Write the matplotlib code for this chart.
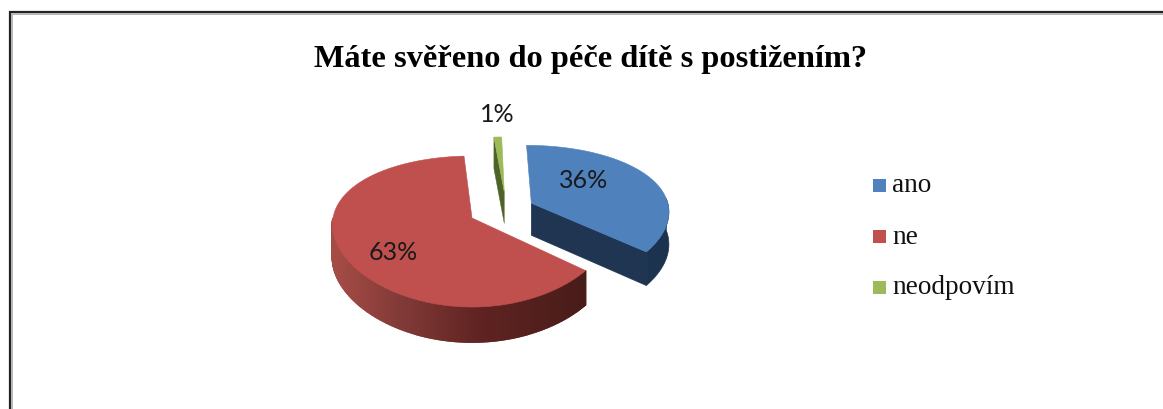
import numpy as np
import matplotlib
matplotlib.use('Agg')
import matplotlib.pyplot as plt
from matplotlib.patches import Polygon

title = 'Máte svěřeno do péče dítě s postižením?'
categories = ['ano', 'ne', 'neodpovím']
shares = [36, 63, 1]
labels = ['36%', '63%', '1%']

top_colors = ['#4f81bd', '#c0504d', '#9bbb59']

# projection of the pie plane, in pixels
cx, cy = 472, 218
A, B, k, kx = 139, 73.1, 0.179, 0.09
offsets = [(0.435, -0.209), (0, 0), (0.24, -0.382)]


def project(u, v):
    return cx + A * u / (1 - kx * v), cy + B * v / (1 - k * v)


def depth(v):
    return 32.5 + 2.5 * np.minimum(v, 1)


def arc(t0, t1, off, n=120):
    t = np.radians(np.linspace(t0, t1, n))
    return off[0] + np.sin(t), off[1] - np.cos(t)


def side_color(x):
    stops_x = [335, 400, 480, 584]
    r = np.interp(x, stops_x, [165, 130, 95, 72])
    g = np.interp(x, stops_x, [75, 58, 35, 28])
    b = np.interp(x, stops_x, [70, 55, 33, 25])
    return (r / 255, g / 255, b / 255)


fig = plt.figure(figsize=(11.63, 4.09), dpi=100)
ax = fig.add_axes([0, 0, 1, 1])
ax.set_xlim(0, 1163)
ax.set_ylim(409, 0)
ax.axis('off')

# frame of the pasted picture
ax.plot([10, 10, 1163], [409, 12, 12], color='#222222', lw=1.6, solid_joinstyle='miter')
ax.plot([12, 12, 1163], [409, 14, 14], color='#b5b5b5', lw=1.4, solid_joinstyle='miter')

ends = np.cumsum(shares) / np.sum(shares) * 360
starts = np.r_[0, ends[:-1]]

# blue side faces
u, v = arc(starts[0], ends[0], offsets[0])
x, y = project(u, v)
ax0, ay0 = project(*offsets[0])
cut = np.array([[ax0, ay0], [x[-1], y[-1]], [x[-1], y[-1] + depth(v[-1])],
                [ax0, ay0 + depth(offsets[0][1])]])
ax.add_patch(Polygon(cut, color='#1f3552', lw=0.5, zorder=2))
keep = np.degrees(np.arctan2(u - offsets[0][0], -(v - offsets[0][1]))) > 85
rim = np.c_[np.r_[x[keep], x[keep][::-1]], np.r_[y[keep], (y + depth(v))[keep][::-1]]]
ax.add_patch(Polygon(rim, color='#1c3350', lw=0.5, zorder=2))

# red side with its gradient, strip by strip
u, v = arc(starts[1], 270, offsets[1], n=200)
x, y = project(u, v)
d = depth(v)
for i in range(len(x) - 1):
    quad = [(x[i], y[i]), (x[i + 1], y[i + 1]), (x[i + 1], y[i + 1] + d[i + 1]), (x[i], y[i] + d[i])]
    ax.add_patch(Polygon(quad, color=side_color((x[i] + x[i + 1]) / 2), lw=1.2, zorder=2))

# green cut face
u, v = arc(starts[2], ends[2], offsets[2], n=10)
x, y = project(u, v)
gx0, gy0 = project(*offsets[2])
gd = depth(offsets[2][1])
ax.add_patch(Polygon([(x[0], y[0]), (gx0, gy0), (gx0, gy0 + gd), (x[0], y[0] + gd)],
                     color='#4f6228', lw=0.3, zorder=2))

# top faces
for i in range(len(shares)):
    u, v = arc(starts[i], ends[i], offsets[i])
    x, y = project(u, v)
    ax0, ay0 = project(*offsets[i])
    ax.add_patch(Polygon(np.c_[np.r_[ax0, x], np.r_[ay0, y]], color=top_colors[i], lw=0.4, zorder=3))

ax.text(591, 60, title, family='Liberation Serif', weight='bold', fontsize=23.3,
        ha='center', va='center', color='black')

label_pos = [(584, 180), (393, 252), (497, 114)]
for (lx, ly), t in zip(label_pos, labels):
    ax.text(lx, ly, t, family='Lato', fontsize=18, ha='center', va='center',
            color='#1a1a1a', zorder=5)

# legend
leg_y = [185, 236, 287]
for ly, c, name in zip(leg_y, top_colors, categories):
    ax.add_patch(Polygon([(873, ly - 6), (886, ly - 6), (886, ly + 7), (873, ly + 7)], color=c, lw=0))
    ax.text(892, ly + 1, name, family='Liberation Serif', fontsize=19.6, ha='left', va='center', color='#111111')

fig.savefig('out.png', dpi=100)
